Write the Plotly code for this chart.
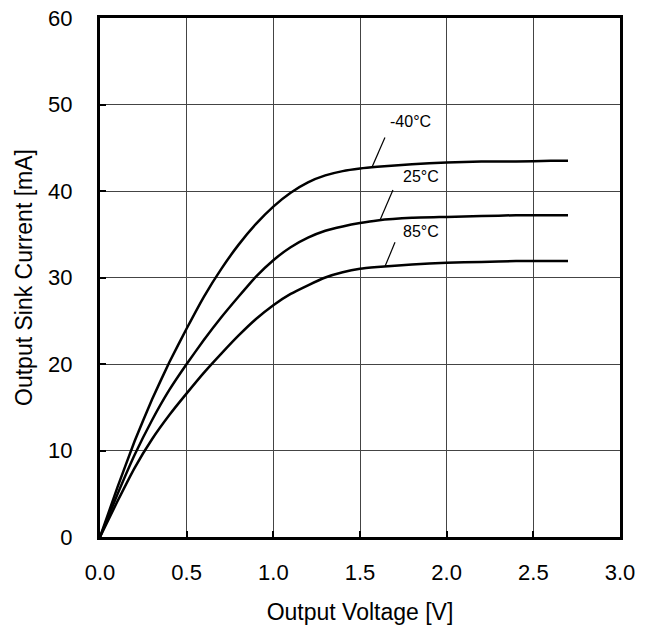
import numpy as np
import plotly.graph_objects as go

# Output voltage [V]
voltage = [0, 0.1, 0.2, 0.3, 0.4, 0.5, 0.6, 0.7, 0.8, 0.9, 1.0, 1.1, 1.2, 1.3,
           1.4, 1.5, 1.6, 1.8, 2.0, 2.2, 2.4, 2.6, 2.7]
# Output sink current [mA]
current_m40 = [0, 5.7, 11.1, 15.9, 20.2, 24.1, 27.8, 31.0, 33.8, 36.2, 38.2, 39.8,
               41.0, 41.8, 42.3, 42.6, 42.8, 43.1, 43.3, 43.4, 43.4, 43.5, 43.5]
current_25 = [0, 4.9, 9.5, 13.5, 17.0, 20.0, 22.8, 25.4, 27.8, 30.1, 32.0, 33.5,
              34.6, 35.4, 35.9, 36.3, 36.6, 36.9, 37.0, 37.1, 37.2, 37.2, 37.2]
current_85 = [0, 4.1, 8.0, 11.3, 14.1, 16.6, 19.0, 21.2, 23.3, 25.2, 26.8, 28.1,
              29.1, 30.0, 30.6, 31.0, 31.2, 31.5, 31.7, 31.8, 31.9, 31.9, 31.9]

series_names = ["-40°C", "25°C", "85°C"]
series_values = [current_m40, current_25, current_85]

x_ticks = [0.0, 0.5, 1.0, 1.5, 2.0, 2.5, 3.0]
y_ticks = [0, 10, 20, 30, 40, 50, 60]

# label placement: where the leader touches the curve, leader vector, text offset
leader_x = [1.569, 1.615, 1.644]
leader_d = [(0.075, 3.45), (0.075, 3.5), (0.058, 2.8)]
label_off = [(0.018, 1.9), (0.047, 1.5), (0.037, 1.2)]

FONT = "Liberation Sans, Arial, Helvetica, sans-serif"

fig = go.Figure()
for name, vals in zip(series_names, series_values):
    fig.add_trace(go.Scatter(x=voltage, y=vals, mode="lines", name=name,
                             line=dict(color="black", width=2.5, shape="spline", smoothing=0.4),
                             showlegend=False, hoverinfo="x+y+name"))

for name, vals, lx, (dx, dy), (ox, oy) in zip(series_names, series_values, leader_x, leader_d, label_off):
    ly = float(np.interp(lx, voltage, vals))
    x1, y1 = lx + dx, ly + dy
    fig.add_shape(type="line", x0=lx, y0=ly, x1=x1, y1=y1, xref="x", yref="y",
                  line=dict(color="black", width=1.2))
    fig.add_annotation(x=x1 + ox, y=y1 + oy, text=name, showarrow=False,
                       xref="x", yref="y", xanchor="left", yanchor="middle",
                       font=dict(family=FONT, size=16, color="black"))

axis_common = dict(
    showline=True, linecolor="black", linewidth=3, mirror=True,
    showgrid=True, gridcolor="#444444", gridwidth=1,
    ticks="inside", ticklen=6, tickwidth=2, tickcolor="black",
    tickfont=dict(family=FONT, size=22, color="black"),
    zeroline=False, automargin=False,
)

fig.update_xaxes(range=[0, 3.0], tickvals=x_ticks, ticktext=[f"{v:.1f}" for v in x_ticks],
                 title=dict(text="Output Voltage [V]", font=dict(family=FONT, size=23, color="black"),
                            standoff=20),
                 ticklabelstandoff=14, **axis_common)
fig.update_yaxes(range=[0, 60], tickvals=y_ticks, ticktext=[str(v) for v in y_ticks],
                 title=dict(text="Output Sink Current [mA]", font=dict(family=FONT, size=23, color="black"),
                            standoff=10),
                 ticklabelstandoff=20, **axis_common)

fig.update_layout(width=651, height=630, margin=dict(l=100, r=31, t=18, b=93),
                  paper_bgcolor="white", plot_bgcolor="white",
                  font=dict(family=FONT, color="black"))

fig.write_html("out.html", config={"displayModeBar": False},
               post_script="document.body.style.margin='0px';")
